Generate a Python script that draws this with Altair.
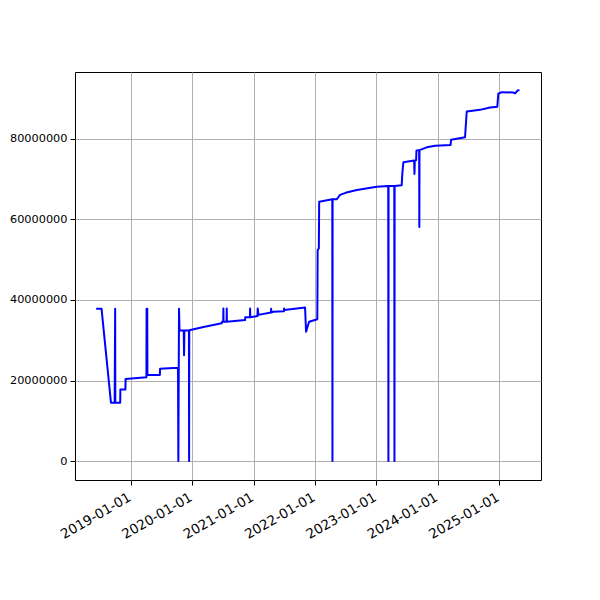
import altair as alt
import pandas as pd

dates = [
    "2018-06-08", "2018-07-10", "2018-09-04", "2018-09-26", "2018-09-29", "2018-09-30",
    "2018-10-29", "2018-10-30", "2018-11-29", "2018-11-30", "2019-04-03", "2019-04-04",
    "2019-04-08", "2019-04-09", "2019-06-22", "2019-06-23", "2019-10-08", "2019-10-10",
    "2019-10-14", "2019-10-17", "2019-11-11", "2019-11-13", "2019-11-15", "2019-12-12",
    "2019-12-13", "2019-12-14", "2020-03-01", "2020-06-24", "2020-06-26", "2020-07-03",
    "2020-07-04", "2020-07-05", "2020-07-23", "2020-07-24", "2020-07-25", "2020-11-10",
    "2020-11-11", "2020-12-09", "2020-12-10", "2020-12-11", "2021-01-23", "2021-01-24",
    "2021-01-29", "2021-04-13", "2021-04-14", "2021-04-16", "2021-04-28", "2021-06-29",
    "2021-06-30", "2021-07-02", "2021-11-02", "2021-11-08", "2021-11-26", "2022-01-14",
    "2022-01-16", "2022-01-23", "2022-01-25", "2022-04-13", "2022-04-14", "2022-04-15",
    "2022-05-10", "2022-05-29", "2022-07-01", "2022-09-06", "2023-01-03", "2023-03-12",
    "2023-03-13", "2023-03-14", "2023-04-17", "2023-04-18", "2023-04-19", "2023-05-31",
    "2023-06-04", "2023-06-10", "2023-08-13", "2023-08-15", "2023-08-17", "2023-08-25",
    "2023-08-27", "2023-09-12", "2023-09-13", "2023-09-14", "2023-10-27", "2023-12-16",
    "2024-03-17", "2024-03-20", "2024-06-11", "2024-06-21", "2024-09-08", "2024-11-07",
    "2024-12-20", "2024-12-26", "2025-01-16", "2025-03-26", "2025-04-05", "2025-04-19",
    "2025-05-01",
]

values_m = [
    37.8, 37.8, 14.5, 14.5, 37.8, 14.5,
    14.5, 17.8, 17.8, 20.4, 20.8, 37.8,
    37.8, 21.4, 21.4, 22.9, 23.2, 0.0,
    37.8, 32.4, 32.4, 26.3, 32.4, 32.4,
    0.0, 32.5, 33.2, 34.2, 34.6, 34.6,
    37.9, 34.6, 34.6, 37.9, 34.6, 35.0,
    35.7, 35.7, 37.9, 35.7, 36.0, 37.9,
    36.3, 36.9, 37.8, 36.9, 37.1, 37.2,
    37.9, 37.5, 38.1, 32.1, 34.6, 35.2,
    52.4, 52.8, 64.4, 65.0, 0.0, 65.0,
    65.0, 66.1, 66.6, 67.3, 68.1, 68.3,
    0.0, 68.3, 68.3, 0.0, 68.3, 68.5,
    71.5, 74.2, 74.6, 71.3, 74.6, 74.7,
    77.1, 77.2, 58.1, 77.2, 77.9, 78.3,
    78.5, 79.8, 80.4, 86.8, 87.2, 87.8,
    88.0, 91.2, 91.6, 91.5, 91.3, 92.0,
    92.1,
]

df = pd.DataFrame({
    "date": dates,
    "value": [round(v * 1_000_000) for v in values_m],
    "order": list(range(len(dates))),
})

x_ticks = [alt.DateTime(year=y, month=1, date=1, utc=True) for y in range(2019, 2026)]
y_ticks = [0, 20000000, 40000000, 60000000, 80000000]

line = alt.Chart(df).mark_line(
    color="#0000ff", strokeWidth=2, strokeJoin="round", clip=True
).encode(
    x=alt.X(
        "date:T",
        scale=alt.Scale(
            type="utc",
            domain=[
                alt.DateTime(year=2018, month=2, date=2, utc=True),
                alt.DateTime(year=2025, month=9, date=6, utc=True),
            ],
        ),
        axis=alt.Axis(
            values=x_ticks,
            format="%Y-%m-%d",
            title=None,
            labelAngle=-30,
            labelAlign="right",
            labelBaseline="top",
            labelPadding=5,
            labelOffset=-5,
            labelFontSize=13.5,
            labelOverlap=False,
        ),
    ),
    y=alt.Y(
        "value:Q",
        scale=alt.Scale(domain=[-4700000, 96600000], nice=False, zero=False),
        axis=alt.Axis(values=y_ticks, format="d", title=None, labelPadding=3,
                      labelFontSize=11.3, labelOverlap=False),
    ),
    order="order:Q",
)

chart = line.properties(
    width=466,
    height=408,
    autosize="none",
    padding={"left": 67, "top": 64, "right": 51, "bottom": 112},
).configure_view(
    stroke="black", strokeWidth=1
).configure_axis(
    domain=False,
    grid=True,
    gridColor="#b0b0b0",
    gridWidth=1,
    ticks=True,
    tickColor="black",
    tickSize=5,
    tickWidth=1,
    labelFont="DejaVu Sans",
    labelColor="black",
)

chart.save("out.html", embed_options={"renderer": "svg", "actions": False})
